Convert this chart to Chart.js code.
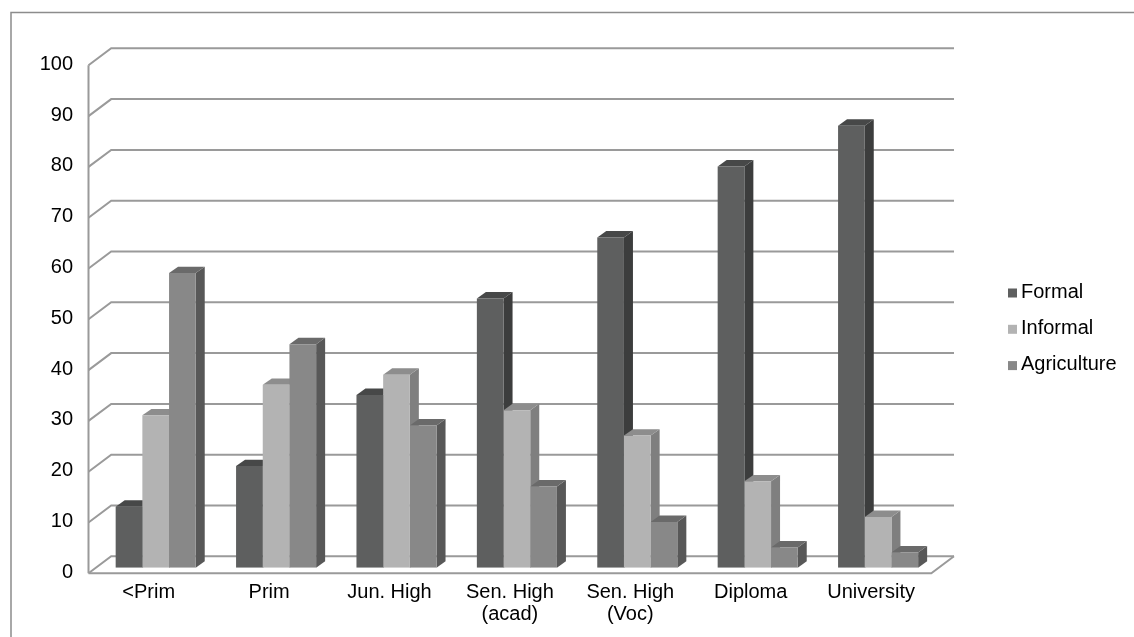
<!DOCTYPE html>
<html>
<head>
<meta charset="utf-8">
<script src="https://cdn.jsdelivr.net/npm/chart.js@4/dist/chart.umd.min.js"></script>
<style>
  html, body { margin: 0; padding: 0; background: #fff; }
  canvas { display: block; }
</style>
</head>
<body>
<canvas id="chart" width="1134" height="637"></canvas>
<script>
// Employment sector shares (%) by education level
const categories = ['<Prim', 'Prim', 'Jun. High', ['Sen. High', '(acad)'], ['Sen. High', '(Voc)'], 'Diploma', 'University'];
const formal      = [12, 20, 34, 53, 65, 79, 87];
const informal    = [30, 36, 38, 31, 26, 17, 10];
const agriculture = [58, 44, 28, 16,  9,  4,  3];
const seriesNames = ['Formal', 'Informal', 'Agriculture'];
const yMin = 0, yMax = 100, yStep = 10;

// Face shades for the extruded bars: front, right side, top
const frontColors = ['#5e5f5f', '#b3b3b3', '#888888'];
const sideColors  = ['#3c3d3d', '#7f7f7f', '#585858'];
const topColors   = ['#474848', '#8d8d8d', '#6a6a6a'];

const FONT = '"Liberation Sans", Arial, Helvetica, sans-serif';
const LINE = '#9a9a9a';

// Depth offsets (px) of the front wall, back wall and bar extrusion
const FRONT = { dx: -7, dy: 5.6 };
const BACK  = { dx: 15.7, dy: -11.4 };
const BAR   = { dx: 9, dy: -6.4 };

function poly(ctx, pts, fill) {
  ctx.beginPath();
  ctx.moveTo(pts[0][0], pts[0][1]);
  for (let i = 1; i < pts.length; i++) ctx.lineTo(pts[i][0], pts[i][1]);
  ctx.closePath();
  ctx.fillStyle = fill;
  ctx.fill();
}

const box3d = {
  id: 'box3d',
  beforeDatasetsDraw(chart) {
    const { ctx, chartArea: a, scales } = chart;
    const ys = scales.y;
    ctx.save();

    // outer frame (top and left edges)
    ctx.strokeStyle = '#8c8c8c';
    ctx.lineWidth = 1.5;
    ctx.beginPath();
    ctx.moveTo(11, 637);
    ctx.lineTo(11, 12.5);
    ctx.lineTo(1134, 12.5);
    ctx.stroke();

    const fl = a.left + FRONT.dx, fr = a.right + FRONT.dx;
    const bl = a.left + BACK.dx,  br = a.right + BACK.dx;

    ctx.strokeStyle = LINE;
    ctx.lineWidth = 2;
    ctx.lineJoin = 'miter';

    // side wall diagonals + back wall gridlines
    for (let v = yMin; v <= yMax; v += yStep) {
      const y = ys.getPixelForValue(v);
      ctx.beginPath();
      ctx.moveTo(fl, y + FRONT.dy);
      ctx.lineTo(bl, y + BACK.dy);
      ctx.lineTo(br, y + BACK.dy);
      ctx.stroke();
    }

    // front vertical axis
    const y0 = ys.getPixelForValue(yMin), y1 = ys.getPixelForValue(yMax);
    ctx.beginPath();
    ctx.moveTo(fl, y1 + FRONT.dy);
    ctx.lineTo(fl, y0 + FRONT.dy);
    ctx.stroke();

    // floor
    ctx.beginPath();
    ctx.moveTo(fl, y0 + FRONT.dy);
    ctx.lineTo(fr, y0 + FRONT.dy);
    ctx.lineTo(br, y0 + BACK.dy);
    ctx.stroke();

    // bar right sides and tops, drawn behind the library's front faces
    const n = chart.data.labels.length;
    for (let i = 0; i < n; i++) {
      chart.data.datasets.forEach((ds, d) => {
        const bar = chart.getDatasetMeta(d).data[i];
        const l = bar.x - bar.width / 2, r = bar.x + bar.width / 2;
        const t = bar.y, b = bar.base;
        poly(ctx, [[r, t], [r + BAR.dx, t + BAR.dy], [r + BAR.dx, b + BAR.dy], [r, b]], sideColors[d]);
        poly(ctx, [[l, t], [r, t], [r + BAR.dx, t + BAR.dy], [l + BAR.dx, t + BAR.dy]], topColors[d]);
      });
    }
    ctx.restore();
  },
  afterDraw(chart) {
    // legend
    const { ctx } = chart;
    ctx.save();
    ctx.font = '20px ' + FONT;
    ctx.textBaseline = 'alphabetic';
    ctx.textAlign = 'left';
    chart.data.datasets.forEach((ds, d) => {
      const base = 297.5 + d * 36.3;
      ctx.fillStyle = ds.backgroundColor;
      ctx.fillRect(1008, base - 9, 9, 9);
      ctx.fillStyle = '#000';
      ctx.fillText(ds.label, 1021, base);
    });
    ctx.restore();
  }
};

const values = [formal, informal, agriculture];

new Chart(document.getElementById('chart'), {
  type: 'bar',
  data: {
    labels: categories,
    datasets: values.map((vals, d) => ({
      label: seriesNames[d],
      data: vals,
      backgroundColor: frontColors[d],
      borderWidth: 0,
      categoryPercentage: 0.665,
      barPercentage: 1.0
    }))
  },
  options: {
    responsive: false,
    devicePixelRatio: 1,
    animation: false,
    layout: { padding: { left: 0, right: 195.7, top: 59.7, bottom: 0 } },
    plugins: { legend: { display: false }, tooltip: { enabled: false } },
    scales: {
      x: {
        grid: { display: false, drawTicks: false },
        border: { display: false },
        afterFit(s) { s.height = 69.3; },
        ticks: {
          color: '#000',
          font: { family: FONT, size: 20, lineHeight: 1.1 },
          padding: 14,
          labelOffset: -7,
          maxRotation: 0,
          autoSkip: false
        }
      },
      y: {
        min: yMin, max: yMax,
        grid: { display: false, drawTicks: false },
        border: { display: false },
        afterFit(s) { s.width = 95.5; },
        ticks: {
          stepSize: yStep,
          color: '#000',
          font: { family: FONT, size: 20 },
          padding: 22.5,
          labelOffset: 4.5
        }
      }
    }
  },
  plugins: [box3d]
});
</script>
</body>
</html>
